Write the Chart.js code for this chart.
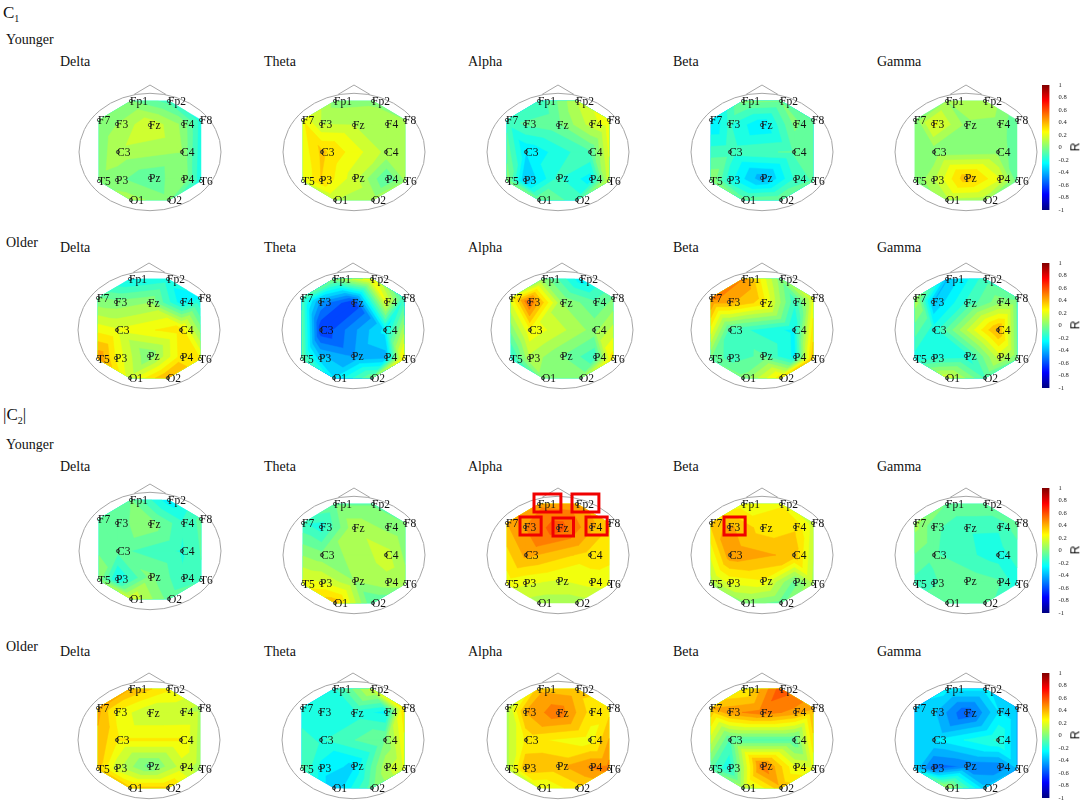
<!DOCTYPE html>
<html lang="en">
<head>
    <meta charset="UTF-8">
    <title>EEG topographies</title>
    <script src="https://cdn.jsdelivr.net/npm/chart.js"></script>
    <style>
        body { margin: 0; background: #fff; }
        #page {
            position: relative;
            width: 1084px;
            height: 805px;
            overflow: hidden;
            font-family: "Liberation Serif", serif;
            color: #111;
        }
        #page canvas { position: absolute; }
        .txt { position: absolute; white-space: nowrap; line-height: 16px; font-size: 14px; }
        .group { font-size: 17px; line-height: 20px; }
        .group sub { font-size: 10px; line-height: 0; }
        .rlabel {
            position: absolute;
            font: 12px "Liberation Sans", sans-serif;
            transform: rotate(-90deg);
        }
    </style>
</head>
<body>
<div id="page"></div>
<script>
    // Electrodes, in head units (front is positive y)
    const electrodes = ["Fp1", "Fp2", "F7", "F3", "Fz", "F4", "F8", "C3", "C4", "T5", "P3", "Pz", "P4", "T6", "O1", "O2"];
    const electrodeX = [-19, 19, -51, -33, 0, 33, 51, -32, 32, -51, -33, 0, 33, 51, -19, 19];
    const electrodeY = [51, 51, 32, 28, 27, 28, 32, 0, 0, -29, -28, -26, -27, -29, -48, -48];

    const bands = ["Delta", "Theta", "Alpha", "Beta", "Gamma"];
    const colorbarTicks = [-1, -0.8, -0.6, -0.4, -0.2, 0, 0.2, 0.4, 0.6, 0.8, 1];

    // R per electrode, same order as electrodes
    const c1YoungerDelta = [-0.02, -0.12, 0, 0.05, 0.18, 0.03, -0.2, 0.1, 0.05, 0.02, 0, -0.08, 0.05, -0.22, 0.08, 0];
    const c1YoungerTheta = [0.02, 0.03, 0.25, 0.12, 0.12, 0.1, 0.05, 0.35, 0.1, 0.18, 0.33, 0.15, -0.1, 0.05, 0.12, 0.08];
    const c1YoungerAlpha = [-0.15, 0.12, -0.12, -0.08, -0.04, 0.15, 0.25, -0.3, -0.1, 0.02, -0.38, -0.15, -0.27, 0.15, -0.03, -0.12];
    const c1YoungerBeta = [0, -0.02, -0.32, -0.15, -0.3, 0, -0.08, -0.12, -0.08, 0.05, -0.2, -0.42, -0.15, -0.08, -0.05, -0.02];
    const c1YoungerGamma = [0.05, 0.12, 0, 0.22, 0.03, 0.02, -0.07, 0, 0.02, 0, 0.1, 0.38, 0.2, -0.05, 0.1, 0.08];

    const c1OlderDelta = [-0.25, -0.2, -0.02, 0, 0.05, -0.28, -0.25, 0.2, 0.3, 0.47, 0.25, -0.02, 0.3, 0.27, 0.15, 0.42];
    const c1OlderTheta = [0, 0.25, -0.1, -0.45, -0.65, 0.2, -0.15, -0.65, -0.28, -0.05, -0.35, -0.45, -0.4, 0.3, -0.3, -0.02];
    const c1OlderAlpha = [0.03, -0.28, 0.22, 0.55, 0.05, -0.08, -0.02, 0.25, 0.02, -0.2, 0.1, -0.02, -0.15, 0.3, 0.03, 0.03];
    const c1OlderBeta = [0.47, 0, 0.5, 0.42, 0.3, -0.15, 0.2, -0.12, -0.25, -0.03, -0.12, -0.08, -0.25, 0.38, 0, 0.3];
    const c1OlderGamma = [-0.38, -0.12, 0.1, -0.38, -0.15, 0.02, -0.05, -0.2, 0.42, -0.2, -0.18, -0.2, 0.15, -0.02, 0.18, -0.1];

    const c2YoungerDelta = [-0.02, -0.28, -0.08, -0.05, 0.03, -0.15, -0.07, -0.07, -0.17, 0.02, -0.25, 0, -0.15, -0.1, 0.18, -0.05];
    const c2YoungerTheta = [-0.03, -0.03, -0.15, -0.2, 0.1, 0.03, -0.02, 0, 0.15, 0.22, 0.2, 0.05, 0.1, 0.08, 0.38, -0.1];
    const c2YoungerAlpha = [0.45, 0.43, 0.4, 0.47, 0.58, 0.42, 0.35, 0.42, 0.3, 0.22, 0.2, 0.18, 0.22, 0.22, 0.08, 0.08];
    const c2YoungerBeta = [0.22, 0.25, 0.35, 0.42, 0.3, 0.32, 0.15, 0.45, 0.38, 0.08, 0.2, 0.25, -0.05, 0.1, 0.02, -0.05];
    const c2YoungerGamma = [-0.03, -0.03, 0.08, -0.07, -0.15, -0.15, -0.05, -0.08, -0.2, -0.12, -0.1, -0.04, -0.08, -0.2, -0.04, -0.04];

    const c2OlderDelta = [0.4, 0.28, 0.42, 0.25, 0.12, 0.12, 0.1, 0.27, 0.27, 0.35, 0.15, -0.05, 0.15, 0.08, 0.35, 0.35];
    const c2OlderTheta = [-0.18, 0.15, -0.2, -0.18, -0.2, -0.25, 0.3, -0.17, -0.02, -0.08, -0.25, -0.32, 0.1, 0.2, -0.38, -0.05];
    const c2OlderAlpha = [0.38, 0.35, 0.1, 0.4, 0.52, 0.3, 0.3, 0.28, 0.22, 0.1, 0.38, 0.38, 0.48, 0.5, 0.18, 0.3];
    const c2OlderBeta = [0.25, 0.58, 0.4, 0.45, 0.5, 0.45, 0.42, -0.1, -0.1, -0.08, -0.22, 0.52, 0.2, 0.2, 0.1, 0.38];
    const c2OlderGamma = [-0.28, -0.28, -0.32, -0.35, -0.58, -0.3, -0.38, -0.3, -0.15, -0.33, -0.55, -0.5, -0.5, -0.38, 0.1, -0.35];

    // Row layout on the page
    const rows = [
        { y: 152, titleY: 62, bar: 85, xs: [149.5, 353.5, 558, 762, 966], values: [c1YoungerDelta, c1YoungerTheta, c1YoungerAlpha, c1YoungerBeta, c1YoungerGamma] },
        { y: 330, titleY: 248, bar: 263, xs: [149, 353, 561.5, 762, 966], values: [c1OlderDelta, c1OlderTheta, c1OlderAlpha, c1OlderBeta, c1OlderGamma] },
        { y: 553, titleY: 467, bar: 488, xs: [149.5, 353.5, 558, 762, 966], ys: [551, 555, 555, 555, 555], values: [c2YoungerDelta, c2YoungerTheta, c2YoungerAlpha, c2YoungerBeta, c2YoungerGamma],
          marked: { Alpha: ["Fp1", "Fp2", "F3", "Fz", "F4"], Beta: ["F3"] } },
        { y: 740, titleY: 652, bar: 673, xs: [149, 353, 558, 762, 966], values: [c2OlderDelta, c2OlderTheta, c2OlderAlpha, c2OlderBeta, c2OlderGamma] }
    ];
    const titleX = [60, 264, 468, 673, 877];
    const texts = [
        { html: "C<sub>1</sub>", x: 3, y: 3, cls: "group" },
        { html: "Younger", x: 6, y: 32 },
        { html: "Older", x: 6, y: 235 },
        { html: "|C<sub>2</sub>|", x: 3, y: 405, cls: "group" },
        { html: "Younger", x: 6, y: 437 },
        { html: "Older", x: 6, y: 639 }
    ];

    // Triangles between electrodes, by index
    const mesh = [
        [0, 1, 4], [0, 4, 3], [0, 3, 2], [1, 5, 4], [1, 6, 5], [2, 3, 7], [2, 7, 9], [6, 5, 8],
        [6, 8, 13], [3, 4, 7], [4, 5, 8], [4, 7, 8], [7, 8, 11], [7, 11, 10], [8, 12, 11], [7, 9, 10],
        [8, 13, 12], [9, 10, 14], [10, 11, 14], [11, 14, 15], [11, 12, 15], [12, 13, 15]
    ];
    const contourStep = 0.07;

    function jet(v) {
        const t = (v + 1) / 2;
        const c = (k) => Math.round(255 * Math.max(0, Math.min(1, 1.5 - Math.abs(4 * t - k))));
        return `rgb(${c(3)},${c(2)},${c(1)})`;
    }

    // Keep the part of a polygon at or above a level
    function clipAbove(poly, level) {
        const out = [];
        poly.forEach((p, i) => {
            const q = poly[(i + 1) % poly.length];
            if (p.v >= level) out.push(p);
            if ((p.v >= level) !== (q.v >= level)) {
                const f = (level - p.v) / (q.v - p.v);
                out.push({ x: p.x + f * (q.x - p.x), y: p.y + f * (q.y - p.y), v: level });
            }
        });
        return out;
    }

    const topoPlugin = {
        id: "topo",
        beforeDatasetsDraw(chart) {
            const { ctx, scales: { x, y } } = chart;
            const pts = chart.data.datasets[0].data.map((d) => ({ x: x.getPixelForValue(d.x), y: y.getPixelForValue(d.y), v: d.v }));
            const lowest = Math.min(...pts.map((p) => p.v));
            const highest = Math.max(...pts.map((p) => p.v));
            ctx.save();
            ctx.lineWidth = 0.5;
            ctx.lineJoin = "round";
            // one level at a time, so that higher levels paint over lower ones
            let lo = -1 + Math.floor((lowest + 1) / contourStep) * contourStep;
            for (; lo < highest; lo += contourStep) {
                ctx.fillStyle = ctx.strokeStyle = jet(lo + contourStep / 2);
                ctx.beginPath();
                mesh.forEach((tri) => {
                    const poly = clipAbove(tri.map((i) => pts[i]), lo);
                    if (poly.length < 3) return;
                    poly.forEach((p, i) => (i ? ctx.lineTo(p.x, p.y) : ctx.moveTo(p.x, p.y)));
                    ctx.closePath();
                });
                ctx.fill("nonzero");
                ctx.stroke();
            }
            // head and nose
            ctx.strokeStyle = "#a6a6a6";
            ctx.lineWidth = 1;
            ctx.beginPath();
            ctx.ellipse(x.getPixelForValue(0), y.getPixelForValue(0), x.getPixelForValue(71) - x.getPixelForValue(0), y.getPixelForValue(0) - y.getPixelForValue(58.7), 0, 0, Math.PI * 2);
            ctx.moveTo(x.getPixelForValue(-16), y.getPixelForValue(57.5));
            ctx.lineTo(x.getPixelForValue(0), y.getPixelForValue(67));
            ctx.lineTo(x.getPixelForValue(16), y.getPixelForValue(57.5));
            ctx.stroke();
            ctx.restore();
        },
        afterDatasetsDraw(chart, args, opts) {
            const { ctx, scales: { x, y } } = chart;
            ctx.save();
            ctx.font = '11.5px "Liberation Serif", serif';
            ctx.textBaseline = "middle";
            ctx.fillStyle = "#111";
            chart.data.datasets[0].data.forEach((d, i) => {
                const px = x.getPixelForValue(d.x), py = y.getPixelForValue(d.y);
                ctx.fillText(electrodes[i], px - 1, py + 0.5);
                if (opts.marked.includes(electrodes[i])) {
                    const w = ctx.measureText(electrodes[i]).width;
                    ctx.strokeStyle = "#f00000";
                    ctx.lineWidth = 3;
                    ctx.strokeRect(px - 5, py - 10, w + 9, 18);
                }
            });
            ctx.restore();
        }
    };

    const page = document.getElementById("page");

    function addCanvas(left, top, w, h) {
        const c = document.createElement("canvas");
        c.width = w;
        c.height = h;
        c.style.left = left + "px";
        c.style.top = top + "px";
        page.appendChild(c);
        return c;
    }

    function addText(html, x, y, cls) {
        const el = document.createElement("div");
        el.className = "txt" + (cls ? " " + cls : "");
        el.style.left = x + "px";
        el.style.top = y + "px";
        el.innerHTML = html;
        page.appendChild(el);
    }

    function drawTopo(values, cx, cy, marked) {
        const canvas = addCanvas(cx - 95, cy - 75, 190, 150);
        new Chart(canvas, {
            type: "scatter",
            data: {
                datasets: [{
                    data: electrodes.map((e, i) => ({ x: electrodeX[i], y: electrodeY[i], v: values[i] })),
                    pointRadius: 1.7,
                    pointBorderWidth: 0.8,
                    pointBackgroundColor: "transparent",
                    pointBorderColor: "#333"
                }]
            },
            options: {
                responsive: false,
                animation: false,
                layout: { autoPadding: false },
                plugins: { legend: { display: false }, tooltip: { enabled: false }, topo: { marked: marked || [] } },
                scales: {
                    x: { type: "linear", display: false, min: -95, max: 95 },
                    y: { type: "linear", display: false, min: -75, max: 75 }
                }
            },
            plugins: [topoPlugin]
        });
    }

    function drawColorbar(top) {
        const pad = 8;
        const canvas = addCanvas(1042, top - pad, 30, 125 + pad * 2);
        new Chart(canvas, {
            type: "bar",
            data: {
                labels: ["R"],
                datasets: [{
                    data: [[colorbarTicks[0], colorbarTicks[colorbarTicks.length - 1]]],
                    barPercentage: 1,
                    categoryPercentage: 1,
                    backgroundColor(context) {
                        const h = context.chart.height;
                        // the plot area is known from the padding, also on the first pass
                        const g = context.chart.ctx.createLinearGradient(0, h - pad, 0, pad);
                        [-1, -0.75, -0.25, 0.25, 0.75, 1].forEach((v) => g.addColorStop((v + 1) / 2, jet(v)));
                        return g;
                    }
                }]
            },
            options: {
                responsive: false,
                animation: false,
                layout: { padding: { top: pad, bottom: pad } },
                plugins: { legend: { display: false }, tooltip: { enabled: false } },
                scales: {
                    x: { display: false },
                    y: {
                        position: "right",
                        min: -1,
                        max: 1,
                        afterFit(scale) { scale.width = 22.5; },
                        afterBuildTicks(scale) { scale.ticks = colorbarTicks.map((value) => ({ value })); },
                        grid: { display: false },
                        border: { display: false },
                        ticks: {
                            autoSkip: false,
                            padding: 1,
                            color: "#222",
                            font: { family: '"Liberation Serif", serif', size: 6.5 },
                            callback: (v) => String(v)
                        }
                    }
                }
            }
        });
        const r = document.createElement("div");
        r.className = "rlabel";
        r.textContent = "R";
        r.style.left = "1071px";
        r.style.top = (top + 55) + "px";
        page.appendChild(r);
    }

    texts.forEach((t) => addText(t.html, t.x, t.y, t.cls));
    rows.forEach((row) => {
        bands.forEach((band, i) => {
            addText(band, titleX[i], row.titleY - 8);
            const cy = row.ys ? row.ys[i] : row.y;
            drawTopo(row.values[i], row.xs[i], cy, row.marked && row.marked[band]);
        });
        drawColorbar(row.bar);
    });
</script>
</body>
</html>
